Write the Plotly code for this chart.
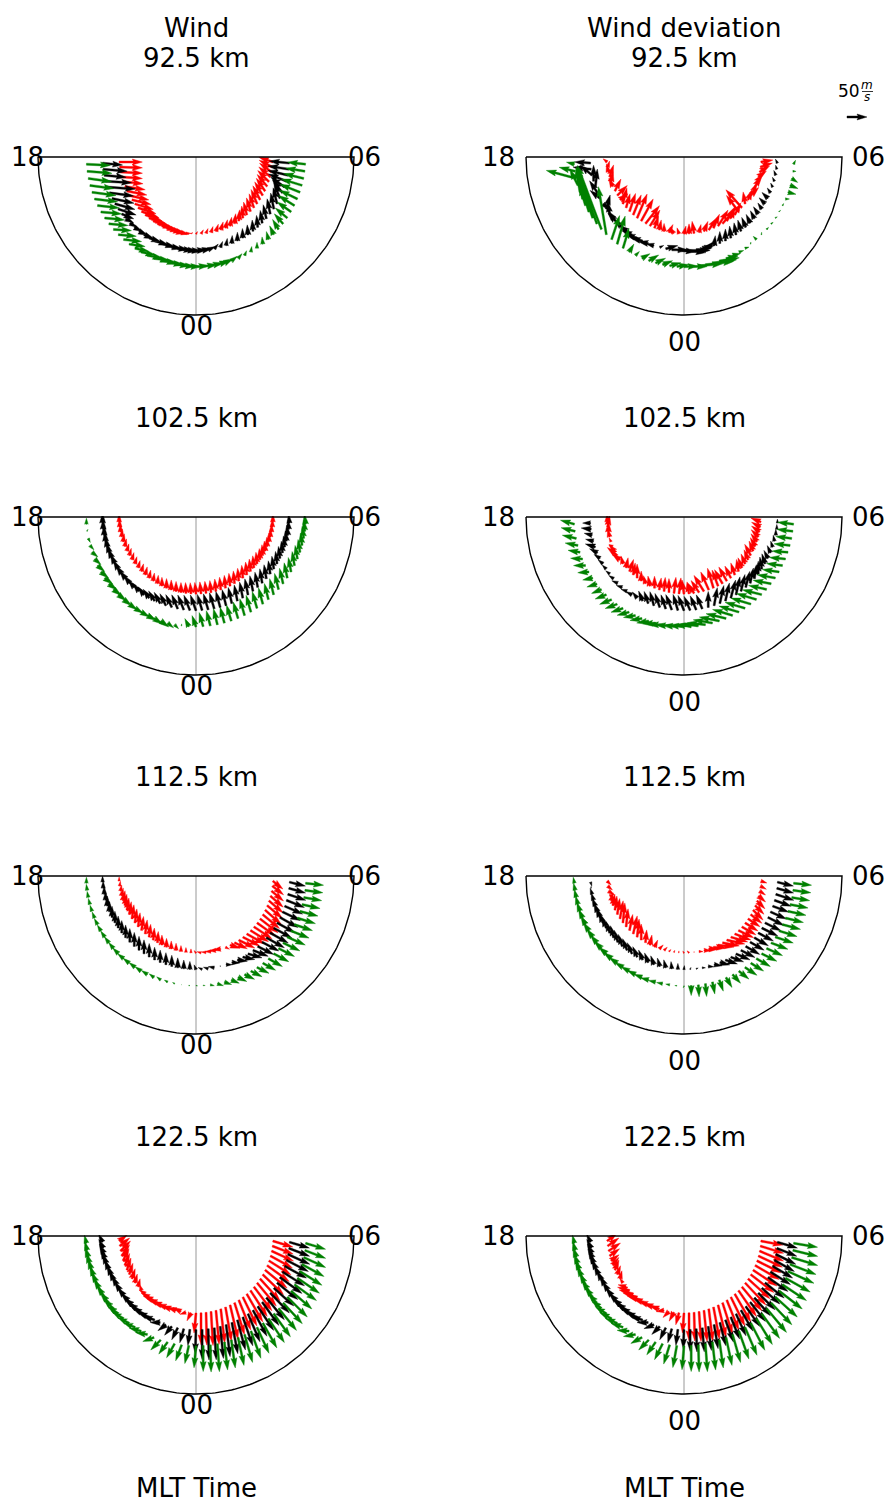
import math
import plotly.graph_objects as go

# ---------------------------------------------------------------------------
# Sampling of the rings: magnetic local time (h) and ring colatitudes (deg)
# ---------------------------------------------------------------------------
mlt_hours = [18.25, 18.5, 18.75, 19.0, 19.25, 19.5, 19.75, 20.0, 20.25, 20.5, 20.75, 21.0,
             21.25, 21.5, 21.75, 22.0, 22.25, 22.5, 22.75, 23.0, 23.25, 23.5, 23.75,
             0.0, 0.25, 0.5, 0.75, 1.0, 1.25, 1.5, 1.75, 2.0, 2.25, 2.5, 2.75, 3.0,
             3.25, 3.5, 3.75, 4.0, 4.25, 4.5, 4.75, 5.0, 5.25, 5.5, 5.75]
ring_colat = [19.5, 23.7, 27.8]          # inner (red), middle (black), outer (green)
ring_colors = ["#ff0000", "#000000", "#008000"]
outer_colat = 40.0
altitudes = ["92.5 km", "102.5 km", "112.5 km", "122.5 km"]
mlt_labels = ["18", "00", "06"]

# Wind vectors in m/s: dawnward (towards 06 MLT) and sunward (towards 12 MLT)
# ---- 92.5 km, wind ----
w92_red_dawn = [58, 57, 55, 52, 50, 51, 50, 49, 48, 46, 45, 44, 42, 41, 40, 39, 38, 34, 30, 25, 20, 12, 5,
                4, 6, 5, 5, 6, 6, 5, 4, 3, 2, -3, -8, -10, -12, -15, -18, -20, -22, -25, -28, -29, -30, -33, -35]
w92_red_sun = [0, -2, -3, -4, -5, -8, -10, -11, -12, -14, -15, -16, -15, -13, -12, -11, -10, -8, -6, -5, -4, 0, 3,
               6, 10, 12, 15, 18, 20, 21, 22, 25, 28, 30, 32, 34, 35, 36, 35, 34, 32, 30, 28, 25, 22, 17, 12]
w92_blk_dawn = [50, 60, 55, 65, 70, 60, 55, 50, 45, 30, 20, 18, 20, 22, 25, 30, 35, 38, 40, 42, 40, 35, 30,
                28, 25, 18, 10, 6, 3, 1, 0, -1, -2, -2, -3, -5, -8, -8, -8, -10, -15, -25, -35, -45, -50, -52, -50]
w92_blk_sun = [-5, -5, -5, -4, -5, -8, -12, -14, -15, -12, -10, -10, -10, -10, -10, -10, -10, -9, -8, -6, -5, -3, -2,
               2, 5, 8, 12, 15, 18, 20, 22, 24, 25, 28, 30, 32, 35, 38, 40, 40, 38, 32, 25, 18, 12, 8, 5]
w92_grn_dawn = [60, 62, 58, 60, 60, 58, 55, 52, 50, 48, 45, 45, 45, 40, 35, 36, 38, 40, 40, 40, 38, 34, 30,
                32, 35, 32, 30, 22, 15, 10, 5, 2, 0, -2, -5, -10, -15, -22, -30, -35, -40, -45, -50, -52, -50, -48, -45]
w92_grn_sun = [-3, -5, -8, -8, -8, -7, -6, -5, -5, -4, -3, -4, -5, -6, -8, -7, -6, -5, -4, -3, -2, -1, 0,
               3, 5, 8, 10, 11, 12, 12, 12, 14, 15, 18, 20, 22, 25, 25, 25, 25, 25, 22, 20, 16, 12, 8, 5]
# ---- 92.5 km, deviation ----
d92_red_dawn = [-10, 5, -5, 10, 5, -10, 15, 25, 20, 10, 10, 15, 20, 25, 30, 35, 25, 10, 5, 0, 10, -10, -5,
                5, 0, -5, 5, 10, 20, 15, 25, 30, 20, 10, 15, -30, -40, -5, 10, 20, 10, 15, 15, 20, 25, 30, 30]
d92_red_sun = [8, 15, 20, 30, 25, 20, 30, 25, 15, 40, 35, 45, 50, 60, 55, 45, 40, 30, 25, 20, 20, 15, 15,
               20, 25, 30, 20, 25, 30, 35, 40, 35, 35, 25, 30, 40, 45, 30, 25, 20, 20, 25, 20, 15, 15, 10, 5]
d92_blk_dawn = [-40, -45, -30, 0, 5, -20, -25, 15, 10, -5, -15, -25, -20, -20, -25, -30, -30, -25, -20, 10, 30, 40, 45,
                55, 50, 40, 30, 15, 3, 0, 0, -3, -5, -8, -10, -10, -10, -12, -10, -15, -15, -8, -5, -5, -5, -3, -5]
d92_blk_sun = [3, 5, 25, 40, 45, 30, 20, -15, 35, 30, 20, 25, 20, 15, 10, 10, 8, 5, 5, 5, 8, 0, -3,
               -5, 0, 5, 8, 15, 25, 30, 30, 30, 30, 28, 25, 22, 20, 18, 15, 15, 15, 12, 10, 10, 12, 10, 10]
d92_grn_dawn = [-20, -40, -75, -20, -10, -15, -15, -30, -40, -50, -60, -20, 20, 20, 15, 12, 10, 20, 25, 25, 25, 28, 30,
                35, 40, 60, 70, 60, 50, 30, 20, 12, 10, 0, -8, 0, 5, 5, 5, 4, 3, 10, 20, 20, 15, 8, 5]
d92_grn_sun = [5, 10, 20, 40, 60, 80, 50, 100, 120, 140, 160, 120, 60, 70, 50, 20, 10, 12, 15, 12, 10, 8, 5,
               2, 0, 5, 8, 8, 8, 6, 5, 4, 3, 5, 8, 6, 5, 4, 3, 4, 5, 0, -5, -8, -10, 0, 10]
# ---- 102.5 km, wind ----
w102_red_dawn = [0, 0, 0, 2, 3, 4, 5, 5, 5, 5, 5, 5, 5, 4, 3, 2, 0, 0, 0, 0, 0, -1, -2,
                 -3, -3, -3, -3, -3, -3, -3, -3, -3, -3, -3, -3, -3, -3, -3, -2, -2, -2, -1, 0, 0, 0, 0, 0]
w102_red_sun = [20, 20, 20, 20, 20, 19, 18, 18, 18, 18, 18, 19, 20, 20, 20, 21, 22, 24, 25, 25, 25, 27, 28,
                29, 30, 30, 30, 31, 32, 32, 32, 32, 32, 32, 32, 31, 30, 29, 28, 27, 25, 23, 22, 21, 20, 20, 20]
w102_blk_dawn = [0, 0, 0, -2, -5, -8, -10, -11, -12, -14, -15, -15, -15, -15, -15, -15, -15, -15, -15, -15, -15, -15, -15,
                 -14, -12, -12, -12, -11, -10, -9, -8, -8, -8, -8, -7, -6, -6, -5, -5, -4, -4, -3, -3, -3, -3, -2, -2]
w102_blk_sun = [25, 25, 25, 25, 25, 25, 25, 24, 22, 21, 20, 19, 18, 19, 20, 22, 25, 28, 30, 32, 35, 37, 38,
                39, 40, 40, 40, 40, 40, 40, 40, 40, 40, 39, 38, 36, 35, 33, 32, 31, 30, 29, 28, 26, 25, 23, 22]
w102_grn_dawn = [0, 2, 5, 10, 15, 16, 18, 19, 20, 20, 20, 20, 20, 20, 20, 21, 22, 21, 20, 15, 10, 0, -10,
                 -10, -10, -10, -10, -11, -12, -12, -12, -12, -12, -11, -10, -10, -10, -9, -8, -7, -6, -6, -5, -4, -4, -3, -3]
w102_grn_sun = [15, 5, -10, -11, -12, -14, -15, -15, -15, -15, -15, -15, -15, -14, -12, -12, -12, -14, -15, -12, -10, 5, 20,
                28, 35, 38, 40, 40, 40, 41, 42, 42, 42, 41, 40, 40, 40, 39, 38, 36, 35, 34, 32, 31, 30, 28, 25]
# ---- 102.5 km, deviation ----
d102_red_dawn = [0, 5, 0, -5, -5, -10, -15, -25, -20, -5, 5, 10, 5, 0, 0, -5, -5, 0, 5, 3, 0, 5, 5,
                 -5, -5, -15, -20, -25, -20, -15, -15, -20, -20, -15, -10, -5, -10, -10, -10, -15, -10, -12, -15, -18, -20, -22, -25]
d102_red_sun = [20, 30, 25, 20, 10, 5, 15, 20, 15, 20, 25, 30, 30, 35, 25, 20, 25, 30, 30, 35, 35, 40, 40,
                35, 30, 25, 30, 40, 45, 50, 40, 35, 35, 30, 30, 30, 25, 25, 25, 28, 25, 22, 20, 18, 15, 12, 10]
d102_blk_dawn = [-20, -25, -20, -20, -25, -20, -15, -12, -10, -10, -12, -15, -15, -15, -15, -12, -10, -10, -10, -12, -12, -15, -12,
                 -15, -15, -15, -15, 0, 8, 10, 10, 12, 10, 10, 10, 8, 5, 0, -5, -8, -10, -8, -5, -3, 0, 0, 0]
d102_blk_sun = [0, 3, 5, 5, 8, 10, 10, 10, 10, 8, 8, 6, 5, 5, 8, 15, 25, 30, 35, 35, 35, 38, 40,
                38, 35, 35, 35, 40, 45, 45, 45, 45, 45, 42, 40, 38, 35, 32, 30, 25, 20, 18, 15, 15, 15, 12, 10]
d102_grn_dawn = [-35, -35, -35, -32, -30, -30, -30, -28, -25, -25, -25, -28, -30, -30, -30, -30, -30, -30, -30, -32, -35, -35, -35,
                 -38, -40, -42, -45, -48, -50, -50, -50, -50, -50, -50, -50, -48, -45, -45, -45, -42, -40, -40, -40, -40, -40, -40, -40]
d102_grn_sun = [10, 9, 8, 6, 5, 2, 0, -2, -5, -8, -10, -11, -12, -11, -10, -8, -5, -5, -5, -2, 0, 2, 3,
                4, 5, 5, 5, 8, 10, 12, 15, 15, 15, 15, 15, 12, 10, 9, 8, 6, 5, 4, 3, 4, 5, 5, 5]
# ---- 112.5 km, wind ----
w112_red_dawn = [0, 2, 3, 4, 5, 5, 5, 5, 5, 5, 5, 5, 5, 4, 3, 2, 0, 0, 0, 0, 0, 0, 0,
                 -5, -10, -12, -15, -18, -20, 10, 25, 32, 40, 42, 45, 45, 45, 45, 45, 42, 40, 38, 35, 32, 30, 28, 25]
w112_red_sun = [10, 12, 15, 20, 25, 28, 30, 32, 35, 35, 35, 35, 35, 32, 30, 28, 25, 22, 20, 18, 15, 12, 10,
                6, 3, 1, 0, -1, -3, -5, -8, -15, -20, -22, -25, -28, -30, -32, -35, -35, -35, -32, -30, -28, -25, -22, -20]
w112_blk_dawn = [0, 0, 0, 0, 0, 0, 0, 0, 0, 0, 0, 0, 0, 0, 0, 0, 0, 0, 0, 0, 0, 0, 0,
                 -5, -10, -12, -15, 0, 15, 20, 25, 30, 35, 38, 40, 42, 45, 45, 45, 45, 45, 45, 45, 45, 45, 42, 40]
w112_blk_sun = [15, 18, 20, 22, 25, 26, 28, 29, 30, 31, 32, 34, 35, 35, 35, 34, 32, 31, 30, 28, 25, 22, 20,
                12, 5, 4, 3, 2, 0, -1, -3, -6, -10, -15, -20, -22, -25, -25, -25, -25, -25, -22, -20, -18, -15, -12, -10]
w112_grn_dawn = [0, -2, -3, -4, -5, -6, -8, -9, -10, -11, -12, -14, -15, -15, -15, -15, -15, -12, -10, -8, -5, -1, 3,
                 4, 5, 10, 15, 18, 20, 22, 25, 28, 30, 32, 35, 38, 40, 42, 45, 45, 45, 45, 45, 45, 45, 45, 45]
w112_grn_sun = [15, 15, 15, 15, 15, 15, 15, 15, 15, 15, 15, 14, 12, 12, 12, 11, 10, 9, 8, 5, 3, 1, 0,
                0, 0, -2, -5, -6, -8, -10, -12, -14, -15, -18, -20, -20, -20, -20, -20, -18, -15, -14, -12, -10, -8, -6, -5]
# ---- 112.5 km, deviation ----
d112_red_dawn = [10, 12, 15, 10, 5, 5, 5, 6, 8, 5, 5, 8, 10, 5, 0, 3, 5, 8, 10, 8, 5, 2, 0,
                 -3, -5, 0, 10, 18, 25, 32, 40, 42, 45, 42, 40, 38, 35, 32, 30, 28, 25, 22, 20, 18, 15, 15, 15]
d112_red_sun = [-10, -10, -10, 5, 20, 28, 35, 40, 45, 50, 45, 40, 45, 45, 40, 32, 25, 18, 10, 8, 5, 5, 5,
                5, 5, 2, 0, 0, 0, -2, -5, -8, -10, -12, -15, -18, -20, -20, -20, -22, -25, -22, -20, -15, -10, -8, -5]
d112_blk_dawn = [3, 0, -5, -6, -8, -9, -10, -10, -10, -9, -8, -9, -10, -11, -12, -11, -10, -9, -8, -6, -5, -2, 0,
                 1, 2, 5, 8, 14, 20, 25, 30, 32, 35, 35, 35, 35, 35, 38, 40, 40, 40, 40, 40, 42, 45, 42, 40]
d112_blk_sun = [-10, 5, 15, 18, 20, 22, 25, 26, 28, 29, 30, 30, 30, 29, 28, 26, 25, 24, 22, 21, 20, 18, 15,
                10, 5, 2, 0, -1, -3, -6, -10, -12, -15, -18, -20, -20, -20, -20, -20, -20, -20, -18, -15, -15, -15, -12, -10]
d112_grn_dawn = [-3, -4, -5, -6, -8, -10, -12, -14, -15, -16, -18, -19, -20, -20, -20, -20, -20, -20, -20, -18, -15, -10, -5,
                 -2, 0, 2, 3, 6, 10, 15, 20, 25, 30, 32, 35, 38, 40, 42, 45, 45, 45, 45, 45, 45, 45, 45, 45]
d112_grn_sun = [15, 18, 20, 21, 22, 22, 22, 21, 20, 19, 18, 16, 15, 14, 12, 11, 10, 8, 5, 4, 3, 2, 0,
                -5, -25, -30, -32, -30, -28, -25, -22, -20, -20, -20, -20, -19, -18, -16, -15, -14, -12, -11, -10, -9, -8, -6, -5]
# ---- 122.5 km, wind ----
w122_red_dawn = [20, 25, 25, 20, 15, 12, 10, 9, 8, 6, 5, -5, -15, -20, -25, -25, -25, -25, -25, -22, -20, -15, -10,
                 -5, 0, 2, 5, 8, 10, 15, 20, 25, 30, 35, 40, 42, 45, 48, 50, 52, 55, 55, 55, 55, 55, 52, 50]
w122_red_sun = [15, 20, 25, 28, 30, 30, 30, 28, 25, 22, 20, 15, 10, 10, 10, 9, 8, 8, 8, 8, 10, -5, -20,
                -50, -80, -82, -85, -85, -85, -85, -85, -80, -75, -72, -70, -65, -60, -58, -55, -50, -45, -40, -35, -30, -25, -20, -15]
w122_blk_dawn = [-10, -11, -12, -12, -12, -12, -12, -14, -15, -18, -20, -22, -25, -28, -30, -30, -30, -25, -20, -18, -15, -10, -5,
                 -2, 0, 2, 5, 8, 10, 15, 20, 25, 30, 35, 40, 42, 45, 48, 50, 52, 55, 55, 55, 55, 55, 52, 50]
w122_blk_sun = [20, 22, 25, 28, 30, 30, 30, 30, 30, 28, 25, 22, 20, 18, 15, 12, 10, 0, -15, -22, -30, -35, -40,
                -60, -75, -78, -80, -80, -80, -78, -75, -72, -70, -65, -60, -58, -55, -50, -45, -42, -40, -35, -30, -28, -25, -20, -15]
w122_grn_dawn = [-5, -6, -8, -9, -10, -12, -15, -18, -20, -22, -25, -28, -30, -30, -30, -30, -30, -28, -25, -22, -20, -15, -10,
                 -5, 0, 2, 5, 8, 10, 15, 20, 25, 30, 35, 40, 42, 45, 48, 50, 52, 55, 55, 55, 55, 55, 52, 50]
w122_grn_sun = [20, 22, 25, 28, 30, 30, 30, 29, 28, 25, 22, 20, 18, 15, 12, 8, 5, -10, -25, -30, -35, -40, -45,
                -55, -65, -68, -70, -70, -70, -70, -70, -68, -65, -62, -60, -58, -55, -52, -50, -45, -40, -38, -35, -30, -25, -20, -15]
# ---- 122.5 km, deviation ----
d122_red_dawn = [25, 28, 30, 25, 20, 15, 10, 8, 5, -8, -20, -30, -35, -35, -35, -32, -30, -28, -25, -20, -15, -12, -8,
                 -4, 0, 2, 5, 8, 10, 15, 20, 25, 30, 35, 40, 45, 50, 52, 55, 58, 60, 60, 60, 60, 60, 58, 55]
d122_red_sun = [20, 20, 20, 18, 15, 20, 25, 22, 20, 12, 5, 8, 10, 10, 10, 10, 10, 9, 8, -3, -15, -22, -30,
                -50, -70, -72, -75, -78, -80, -80, -80, -78, -75, -72, -70, -65, -60, -55, -50, -45, -40, -35, -30, -28, -25, -18, -10]
d122_blk_dawn = [-10, -11, -12, -14, -15, -15, -15, -15, -15, -18, -20, -22, -25, -28, -30, -30, -30, -28, -25, -20, -15, -10, -5,
                 -2, 0, 2, 5, 8, 10, 15, 20, 22, 25, 30, 35, 38, 40, 42, 45, 48, 50, 50, 50, 50, 50, 50, 50]
d122_blk_sun = [20, 22, 25, 28, 30, 30, 30, 30, 30, 28, 25, 22, 20, 18, 15, 12, 8, 0, -10, -20, -30, -35, -40,
                -48, -55, -58, -60, -60, -60, -58, -55, -55, -55, -52, -50, -48, -45, -42, -40, -38, -35, -32, -30, -28, -25, -20, -15]
d122_grn_dawn = [-5, -6, -8, -10, -12, -14, -15, -18, -20, -22, -25, -28, -30, -30, -30, -30, -30, -28, -25, -22, -20, -15, -10,
                 -5, 0, 2, 5, 8, 10, 15, 20, 25, 30, 35, 40, 45, 50, 52, 55, 58, 60, 62, 65, 65, 65, 62, 60]
d122_grn_sun = [20, 22, 25, 26, 28, 28, 28, 26, 25, 22, 20, 18, 15, 12, 10, 2, -5, -15, -25, -32, -40, -48, -55,
                -60, -65, -68, -70, -70, -70, -70, -70, -70, -70, -68, -65, -62, -60, -55, -50, -45, -40, -35, -30, -25, -20, -15, -10]

key_speed = 50  # m/s, reference arrow

panel_data = [
    [  # 92.5 km
        [(w92_red_dawn, w92_red_sun), (w92_blk_dawn, w92_blk_sun), (w92_grn_dawn, w92_grn_sun)],
        [(d92_red_dawn, d92_red_sun), (d92_blk_dawn, d92_blk_sun), (d92_grn_dawn, d92_grn_sun)],
    ],
    [  # 102.5 km
        [(w102_red_dawn, w102_red_sun), (w102_blk_dawn, w102_blk_sun), (w102_grn_dawn, w102_grn_sun)],
        [(d102_red_dawn, d102_red_sun), (d102_blk_dawn, d102_blk_sun), (d102_grn_dawn, d102_grn_sun)],
    ],
    [  # 112.5 km
        [(w112_red_dawn, w112_red_sun), (w112_blk_dawn, w112_blk_sun), (w112_grn_dawn, w112_grn_sun)],
        [(d112_red_dawn, d112_red_sun), (d112_blk_dawn, d112_blk_sun), (d112_grn_dawn, d112_grn_sun)],
    ],
    [  # 122.5 km
        [(w122_red_dawn, w122_red_sun), (w122_blk_dawn, w122_blk_sun), (w122_grn_dawn, w122_grn_sun)],
        [(d122_red_dawn, d122_red_sun), (d122_blk_dawn, d122_blk_sun), (d122_grn_dawn, d122_grn_sun)],
    ],
]

for row in panel_data:
    for panel in row:
        for dawn, sun in panel:
            assert len(dawn) == len(mlt_hours) and len(sun) == len(mlt_hours)

# ---------------------------------------------------------------------------
# Page geometry
# ---------------------------------------------------------------------------
FIG_W, FIG_H = 889, 1504
PX_PER_DEG = 3.95                 # colatitude scale of every dial
PX_PER_MS = 20.0 / key_speed      # quiver scale: 50 m/s -> 20 px
DEG_PER_MS = PX_PER_MS / PX_PER_DEG
SHAFT = 2.0 / PX_PER_DEG          # arrow shaft width in axis units
PAD = 0.5
PAD_TOP = 0.25
FONT = "DejaVu Sans"

col_cx = [196, 684]
row_top = [157, 517, 876, 1236]
# label offsets (px) from the dial: 18 / 06 horizontally, 00 below the rim
lab_dx = [(-169, 168, 11), (-186, 184, 27)]


def px_x(p):
    return p / FIG_W


def px_y(p):
    return 1 - p / FIG_H


def arrow_polygons(x0, y0, dx, dy, w):
    """Filled quiver-style arrows (tail at the anchor point)."""
    xs, ys = [], []
    for xa, ya, u, v in zip(x0, y0, dx, dy):
        L = math.hypot(u, v)
        if L < 1e-9:
            continue
        c, s = u / L, v / L
        sw, hl, hal, hw = w, 5 * w, 4.5 * w, 3 * w
        if L < hl:
            k = L / hl
            sw, hl, hal, hw = sw * k, hl * k, hal * k, hw * k
        pts = [(0, -sw / 2), (L - hal, -sw / 2), (L - hl, -hw / 2), (L, 0),
               (L - hl, hw / 2), (L - hal, sw / 2), (0, sw / 2), (0, -sw / 2)]
        for px, py in pts:
            xs.append(xa + px * c - py * s)
            ys.append(ya + px * s + py * c)
        xs.append(None)
        ys.append(None)
    return xs, ys


fig = go.Figure()
layout_axes = {}
annotations = []
shapes = []


def add_text(text, x, y, size=26, **kw):
    annotations.append(dict(text=text, x=px_x(x), y=px_y(y), xref="paper", yref="paper",
                            showarrow=False, xanchor="center", yanchor="middle",
                            font=dict(family=FONT, size=size, color="black"), **kw))


ax_idx = 0
for r, alt in enumerate(altitudes):
    for c in range(2):
        ax_idx += 1
        cx, top = col_cx[c], row_top[r]
        xname = "x" if ax_idx == 1 else f"x{ax_idx}"
        yname = "y" if ax_idx == 1 else f"y{ax_idx}"
        lo = -(outer_colat + PAD)
        layout_axes["xaxis" if ax_idx == 1 else f"xaxis{ax_idx}"] = dict(
            domain=[px_x(cx + lo * PX_PER_DEG), px_x(cx - lo * PX_PER_DEG)],
            range=[lo, -lo], visible=False, fixedrange=True, anchor=yname)
        layout_axes["yaxis" if ax_idx == 1 else f"yaxis{ax_idx}"] = dict(
            domain=[px_y(top - lo * PX_PER_DEG), px_y(top - PAD_TOP * PX_PER_DEG)],
            range=[lo, PAD_TOP], visible=False, fixedrange=True, anchor=xname)

        # midnight meridian grid line
        fig.add_trace(go.Scatter(x=[0, 0], y=[0, -outer_colat], mode="lines",
                                 line=dict(color="#b0b0b0", width=1.3),
                                 xaxis=xname, yaxis=yname, hoverinfo="skip", showlegend=False))

        # wind arrows on the three rings
        phis = [math.radians(h * 15.0) for h in mlt_hours]
        for ring, color, (dawn, sun) in zip(ring_colat, ring_colors, panel_data[r][c]):
            x0 = [ring * math.sin(p) for p in phis]
            y0 = [-ring * math.cos(p) for p in phis]
            dx = [u * DEG_PER_MS for u in dawn]
            dy = [v * DEG_PER_MS for v in sun]
            ax_, ay_ = arrow_polygons(x0, y0, dx, dy, SHAFT)
            fig.add_trace(go.Scatter(x=ax_, y=ay_, mode="lines", fill="toself",
                                     fillcolor=color, line=dict(color=color, width=0.4),
                                     xaxis=xname, yaxis=yname, hoverinfo="skip",
                                     showlegend=False))

        # dial frame: night-side half circle closed by the 18-06 line
        n = 181
        fx = [outer_colat * math.sin(math.radians(270 + 180 * i / (n - 1))) for i in range(n)]
        fy = [-outer_colat * math.cos(math.radians(270 + 180 * i / (n - 1))) for i in range(n)]
        fx.append(fx[0])
        fy.append(fy[0])
        fig.add_trace(go.Scatter(x=fx, y=fy, mode="lines", line=dict(color="black", width=1.4),
                                 xaxis=xname, yaxis=yname, hoverinfo="skip", showlegend=False))

        # MLT labels
        d18, d06, d00 = lab_dx[c]
        rim = outer_colat * PX_PER_DEG
        add_text(mlt_labels[0], cx + d18, top)
        add_text(mlt_labels[2], cx + d06, top)
        add_text(mlt_labels[1], cx, top + rim + d00)

        # altitude titles above each dial
        add_text(alt, cx, top - 99)

# column headers and bottom captions
add_text("Wind", col_cx[0], 28)
add_text("Wind deviation", col_cx[1], 28)
for c in range(2):
    add_text("MLT Time", col_cx[c], 1488)

# ---------------------------------------------------------------------------
# reference arrow (50 m/s)
# ---------------------------------------------------------------------------
kx, ky = 857, 117
half_w, half_h = 22, 9
layout_axes["xaxis9"] = dict(domain=[px_x(kx - half_w), px_x(kx + half_w)],
                             range=[-half_w / PX_PER_DEG, half_w / PX_PER_DEG],
                             visible=False, fixedrange=True, anchor="y9")
layout_axes["yaxis9"] = dict(domain=[px_y(ky + half_h), px_y(ky - half_h)],
                             range=[-half_h / PX_PER_DEG, half_h / PX_PER_DEG],
                             visible=False, fixedrange=True, anchor="x9")
klen = key_speed * DEG_PER_MS
kxs, kys = arrow_polygons([-klen / 2], [0], [klen], [0], SHAFT)
fig.add_trace(go.Scatter(x=kxs, y=kys, mode="lines", fill="toself", fillcolor="black",
                         line=dict(color="black", width=0.4), xaxis="x9", yaxis="y9",
                         hoverinfo="skip", showlegend=False))
add_text(str(key_speed), 849, 91, size=17)
add_text("<i>m</i>", 867, 85, size=12)
add_text("<i>s</i>", 867, 97, size=12)
shapes.append(dict(type="line", xref="paper", yref="paper", x0=px_x(862), x1=px_x(873),
                   y0=px_y(91.5), y1=px_y(91.5), line=dict(color="black", width=0.8)))

fig.update_layout(width=FIG_W, height=FIG_H, margin=dict(l=0, r=0, t=0, b=0),
                  paper_bgcolor="white", plot_bgcolor="rgba(0,0,0,0)",
                  showlegend=False, annotations=annotations, shapes=shapes, **layout_axes)

fig.write_html("out.html")
